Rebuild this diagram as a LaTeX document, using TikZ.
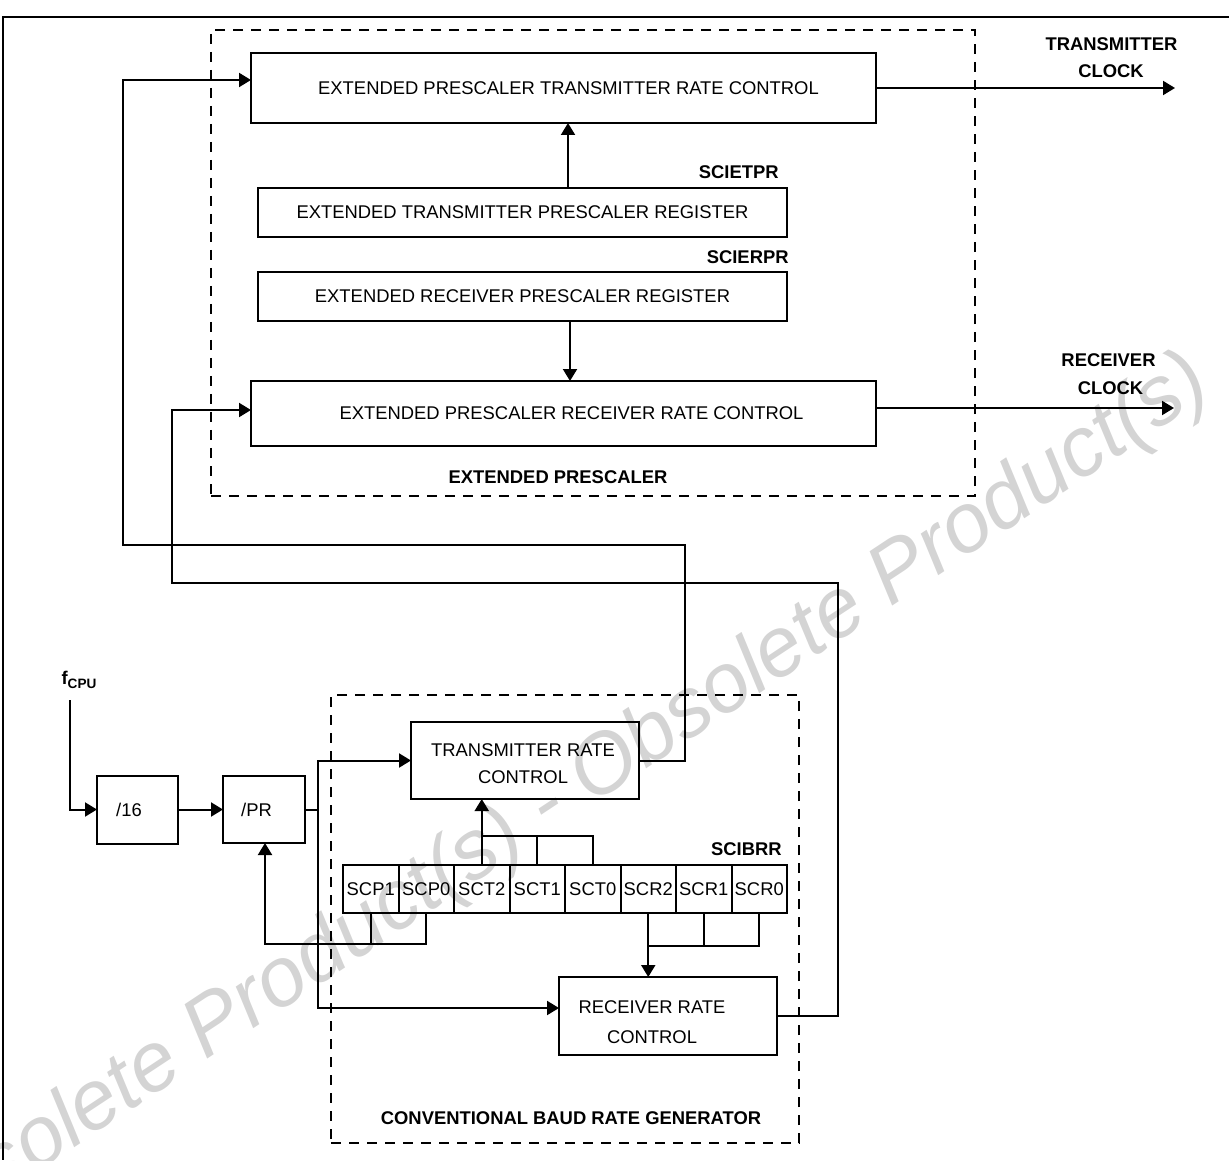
\documentclass[tikz,border=0pt]{standalone}
\usepackage{fontspec}
\setmainfont{Liberation Sans}
\usetikzlibrary{arrows.meta}
\begin{document}
\begin{tikzpicture}[x=0.5pt,y=-0.5pt,
  font=\fontsize{9.2}{11}\selectfont,
  box/.style={draw,line width=1pt,inner sep=0pt,outer sep=0pt},
  dbox/.style={draw,line width=0.9pt,dash pattern=on 5pt off 4pt,inner sep=0pt,outer sep=0pt},
  wire/.style={line width=1pt},
  arr/.style={line width=1pt,-{Triangle[length=6pt,width=7pt]}},
  lbl/.style={font=\fontsize{9.2}{11}\selectfont\bfseries,inner sep=0pt},
  txt/.style={inner sep=0pt,align=center},
  cell/.style={box,minimum width=27.75pt,minimum height=24pt},
  wmark/.style={font=\fontsize{42}{50}\selectfont\itshape,text=black!17,inner sep=0pt}]
\useasboundingbox (0,0) rectangle (1229,1160);
\clip (0,0) rectangle (1229,1160);
% watermark
\node[wmark,rotate=33.5] (wm) at (548,808) {Obsolete Product(s) - Obsolete Product(s)};
% frame
\draw[line width=0.8pt] (1229,17) -- (3,17) -- (3,1160);
% dashed groups
\node[dbox,minimum width=382pt,minimum height=233pt] (ext) at (593,263) {};
\node[dbox,minimum width=234pt,minimum height=224pt] (conv) at (565,919) {};
\node[lbl] (extl) at (558,477) {EXTENDED PRESCALER};
\node[lbl] (convl) at (571,1118) {CONVENTIONAL BAUD RATE GENERATOR};
% extended prescaler boxes
\node[box,minimum width=312.5pt,minimum height=35pt] (etrc) at (563.5,88) {\hspace*{5pt}EXTENDED PRESCALER TRANSMITTER RATE CONTROL};
\node[box,minimum width=264.5pt,minimum height=24.5pt] (etpr) at (522.5,212.5) {EXTENDED TRANSMITTER PRESCALER REGISTER};
\node[box,minimum width=264.5pt,minimum height=24.5pt] (erpr) at (522.5,296.5) {EXTENDED RECEIVER PRESCALER REGISTER};
\node[box,minimum width=312.5pt,minimum height=32.5pt] (errc) at (563.5,413.5) {\hspace*{8pt}EXTENDED PRESCALER RECEIVER RATE CONTROL};
\node[lbl,anchor=east] (etprl) at (779,172) {SCIETPR};
\node[lbl,anchor=east] (erprl) at (789,257) {SCIERPR};
% clocks
\node[lbl] (txc1) at (1111.5,44) {TRANSMITTER};
\node[lbl] (txc2) at (1111,71) {CLOCK};
\node[lbl] (rxc1) at (1108.5,360) {RECEIVER};
\node[lbl] (rxc2) at (1110.5,388) {CLOCK};
\coordinate (txend) at (1175,88);
\coordinate (rxend) at (1174,408);
% conventional generator
\node[lbl] (fcpu) at (79,680) {f\raisebox{-0.45ex}{\fontsize{6.8}{8}\selectfont CPU}};
\node[box,minimum width=40.5pt,minimum height=34pt] (d16) at (137.5,809.5) {\raisebox{-2pt}{/16}\hspace*{8.5pt}};
\node[box,minimum width=41pt,minimum height=33.5pt] (dpr) at (264,809.5) {\raisebox{-2pt}{/PR}\hspace*{7.5pt}};
\node[box,minimum width=114pt,minimum height=38.5pt] (trc) at (525,760.5) {};
\node[txt,font=\fontsize{9.2}{13.5}\selectfont] (trct) at (523,763.5) {TRANSMITTER RATE\\CONTROL};
\node[box,minimum width=109pt,minimum height=39pt] (rrc) at (668,1016) {};
\node[txt,font=\fontsize{9.2}{15}\selectfont] (rrct) at (652,1022) {RECEIVER RATE\\CONTROL};
% SCIBRR register
\node[cell] (c1) at (370.75,889) {SCP1};
\node[cell] (c2) at (426.25,889) {SCP0};
\node[cell] (c3) at (481.75,889) {SCT2};
\node[cell] (c4) at (537.25,889) {SCT1};
\node[cell] (c5) at (592.75,889) {SCT0};
\node[cell] (c6) at (648.25,889) {SCR2};
\node[cell] (c7) at (703.75,889) {SCR1};
\node[cell] (c8) at (759.25,889) {SCR0};
\node[lbl,anchor=east] (brrl) at (782,849) {SCIBRR};
% coordinates
\coordinate (xa) at (568,0);
\coordinate (xb) at (570,0);
\coordinate (tx1) at (685,545);
\coordinate (tx2) at (123,80);
\coordinate (rx1) at (838,583);
\coordinate (rx2) at (172,410);
\coordinate (fstart) at (70,700);
\coordinate (bus) at (318,0);
\coordinate (tline) at (0,836);
\coordinate (pline) at (0,944);
\coordinate (prx) at (265,944);
\coordinate (rline) at (0,946);
\coordinate (rin) at ([yshift=4pt]rrc.west);
\coordinate (etout) at (etrc.east);
\coordinate (erout) at ([yshift=2.75pt]errc.east);
% connectors in the extended prescaler
\draw[arr] (etpr.north -| xa) -- (etrc.south -| xa);
\draw[arr] (erpr.south -| xb) -- (errc.north -| xb);
\draw[arr] (etout) -- (etout -| txend);
\draw[arr] (erout) -- (erout -| rxend);
% long routes
\draw[arr] (trc.east) -| (tx1) -| (tx2) -- (tx2 -| etrc.west);
\draw[arr] (rrc.east) -| (rx1) -| (rx2) -- (rx2 -| errc.west);
% input chain
\draw[arr] (fstart) |- (d16.west);
\draw[arr] (d16.east) -- (dpr.west);
\draw[arr] (dpr.east) -| (bus |- trc.west) -- (trc.west);
\draw[arr] (dpr.east -| bus) |- (rin);
% register taps
\draw[wire] (c3.north) -- (c3.north |- tline) -- (c5.north |- tline) -- (c5.north);
\draw[wire] (c4.north) -- (c4.north |- tline);
\draw[arr] (c3.north |- tline) -- (c3.north |- trc.south);
\draw[wire] (c1.south) -- (c1.south |- pline);
\draw[arr] (c2.south) -- (c2.south |- pline) -- (prx) -- (prx |- dpr.south);
\draw[wire] (c6.south) -- (c6.south |- rline) -- (c8.south |- rline) -- (c8.south);
\draw[wire] (c7.south) -- (c7.south |- rline);
\draw[arr] (c6.south |- rline) -- (c6.south |- rrc.north);
\end{tikzpicture}
\end{document}
